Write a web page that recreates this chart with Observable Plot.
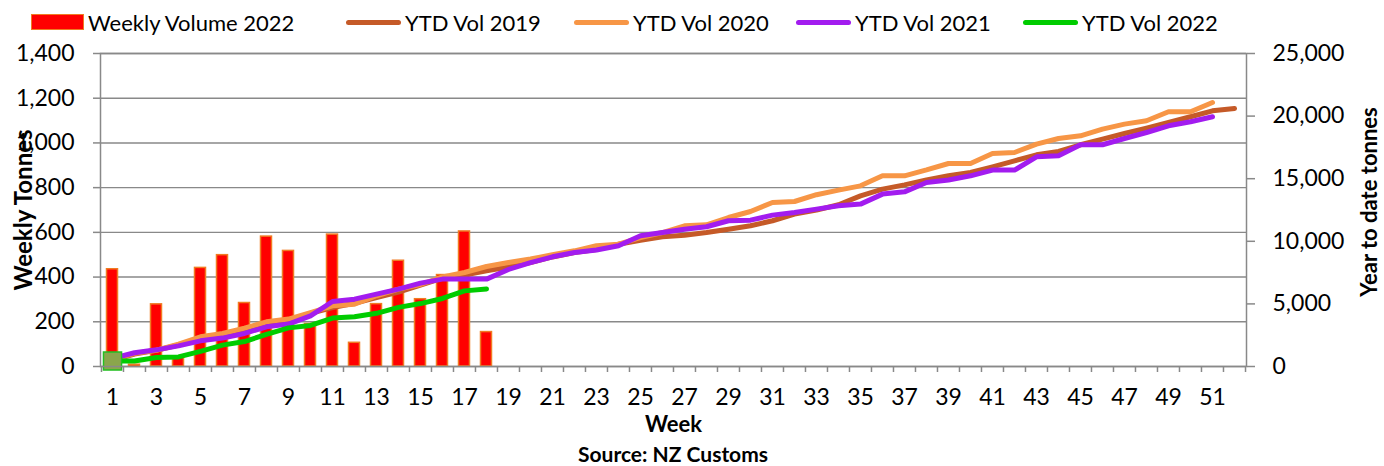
<!DOCTYPE html>
<html>
<head>
<meta charset="utf-8">
<script src="https://cdn.jsdelivr.net/npm/d3@7"></script>
<script src="https://cdn.jsdelivr.net/npm/@observablehq/plot@0.6"></script>
<style>
  html, body { margin: 0; padding: 0; background: #fff; }
  #wrap { position: relative; width: 1384px; height: 466px; overflow: hidden; font-family: Lato, sans-serif; }
  #legend { position: absolute; top: 0; left: 0; width: 1384px; height: 44px; font-size: 22px; color: #000; }
  .item { position: absolute; top: 0; height: 44px; display: flex; align-items: center; white-space: nowrap; }
  .sw { display: inline-block; width: 55px; margin-right: 4px; }
  .sw.bar { width: 53px; height: 16px; background: #ff0000; border: 1.5px solid #f07b22; box-sizing: border-box; }
  .sw.line { height: 5px; border-radius: 3px; }
  #chart { position: absolute; top: 38px; left: 0; }
  #caption { position: absolute; top: 443px; left: 0; width: 1346px; text-align: center; font: bold 21px Lato, sans-serif; line-height: 21px; }
</style>
</head>
<body>
<div id="wrap">
  <div id="legend"></div>
  <div id="chart"></div>
  <div id="caption">Source: NZ Customs</div>
</div>
<script>
// ---- data ----
const weeks = [1,2,3,4,5,6,7,8,9,10,11,12,13,14,15,16,17,18,19,20,21,22,23,24,25,26,
               27,28,29,30,31,32,33,34,35,36,37,38,39,40,41,42,43,44,45,46,47,48,49,50,51,52];
const weekLabels = [1,3,5,7,9,11,13,15,17,19,21,23,25,27,29,31,33,35,37,39,41,43,45,47,49,51];

const weeklyVolume2022 = [435, 8, 278, 45, 441, 498, 284, 581, 517, 190, 590, 106, 279, 473, 301, 409, 604, 154];

const ytd2019 = [500, 1000, 1300, 1720, 2150, 2450, 2900, 3350, 3700, 4250, 4700, 5050, 5500, 5950, 6500, 7050,
                 7300, 7650, 7950, 8300, 8750, 9100, 9350, 9770, 10090, 10360, 10490, 10700, 10970, 11240, 11640,
                 12170, 12490, 12920, 13630, 14170, 14510, 14900, 15230, 15500, 15950, 16430, 16910, 17175, 17710,
                 18160, 18610, 19040, 19490, 19945, 20420, 20610];
const ytd2020 = [550, 1050, 1300, 1790, 2370, 2640, 3060, 3570, 3790, 4310, 4850, 4980, 5650, 6180, 6550, 7160,
                 7510, 7990, 8310, 8580, 8920, 9240, 9640, 9770, 10300, 10700, 11240, 11320, 11900, 12380, 13100,
                 13180, 13720, 14090, 14430, 15230, 15230, 15700, 16215, 16215, 17015, 17095, 17760, 18210, 18425,
                 18960, 19360, 19625, 20345, 20345, 21085];
const ytd2021 = [650, 1100, 1330, 1650, 2050, 2270, 2640, 3170, 3390, 4050, 5190, 5380, 5780, 6180, 6660, 6980,
                 6980, 6980, 7750, 8300, 8760, 9100, 9300, 9640, 10440, 10700, 10970, 11160, 11640, 11690, 12090,
                 12300, 12570, 12835, 12970, 13770, 13950, 14700, 14900, 15230, 15685, 15685, 16750, 16830, 17710,
                 17710, 18210, 18690, 19225, 19545, 19945];
const ytd2022 = [435, 445, 720, 765, 1205, 1705, 1990, 2570, 3085, 3280, 3870, 3975, 4250, 4725, 5025, 5435, 6040, 6195];

const leftTicks = [0, 200, 400, 600, 800, 1000, 1200, 1400];
const rightTicks = [0, 5000, 10000, 15000, 20000, 25000];

const seriesNames = ["YTD Vol 2019", "YTD Vol 2020", "YTD Vol 2021", "YTD Vol 2022"];
const seriesColors = ["#c55a28", "#f79646", "#a21cef", "#00cc00"];
const barName = "Weekly Volume 2022";

// ---- build tables ----
const k = 1400 / 25000; // right axis -> left axis
const bars = weeklyVolume2022.map((v, i) => ({week: weeks[i], value: v}));
const ytdSeries = [ytd2019, ytd2020, ytd2021, ytd2022];
const lines = ytdSeries.map((arr, s) => arr.map((v, i) => ({week: weeks[i], ytd: v, series: seriesNames[s]})));

const gray = "#898989";
const fmt = d3.format(",");
const halfBand = (1384 - 100 - 138) / weeks.length / 2;

const chart = Plot.plot({
  width: 1384,
  height: 398,
  marginTop: 15,
  marginBottom: 70,
  marginLeft: 100,
  marginRight: 138,
  style: {fontFamily: "Lato, sans-serif", fontSize: "23px", color: "#000", background: "#fff"},
  x: {type: "band", domain: weeks, padding: 0},
  y: {domain: [0, 1400]},
  marks: [
    Plot.gridY(leftTicks, {stroke: gray, strokeOpacity: 1, strokeWidth: 1.4}),
    Plot.barY(bars, {x: "week", y: "value", fill: "#ff0000", stroke: "#f07b22", strokeWidth: 1.5, insetLeft: 5.5, insetRight: 5.5}),
    ...lines.map((data, s) => Plot.line(data, {
      x: "week", y: d => d.ytd * k, stroke: seriesColors[s], strokeWidth: 5,
      strokeLinejoin: "round", strokeLinecap: "round"
    })),
    Plot.dot(lines[3].slice(0, 1), {x: "week", y: d => d.ytd * k, symbol: "square", r: 10.2,
      fill: "#8aa64c", stroke: "#22c022", strokeWidth: 1.5}),
    Plot.frame({stroke: gray, strokeWidth: 1.5}),
    Plot.axisY(leftTicks, {anchor: "left", tickSize: 7, tickPadding: 19, stroke: gray, strokeWidth: 1.5,
      tickFormat: fmt, label: null}),
    Plot.axisY(rightTicks.map(v => v * k), {anchor: "right", tickSize: 8, tickPadding: 18, stroke: gray, strokeWidth: 1.5,
      tickFormat: d => fmt(Math.round(d / k)), label: null}),
    Plot.axisX(weeks, {tickSize: 6, stroke: gray, strokeWidth: 1.5, tickFormat: () => "", dx: -halfBand, label: null}),
    Plot.axisX([52], {tickSize: 6, stroke: gray, strokeWidth: 1.5, tickFormat: () => "", dx: halfBand, label: null}),
    Plot.axisX(weekLabels, {tickSize: 0, tickPadding: 22, label: null}),
    Plot.text(["Weekly Tonnes"], {frameAnchor: "left", dx: -76, rotate: -90, textAnchor: "middle", lineAnchor: "middle",
      fontWeight: "bold", fontSize: 24, text: d => d}),
    Plot.text(["Year to date tonnes"], {frameAnchor: "right", dx: 123, dy: -8, rotate: -90, textAnchor: "middle", lineAnchor: "middle",
      fontWeight: "bold", fontSize: 22, text: d => d}),
    Plot.text(["Week"], {frameAnchor: "bottom", dy: 58, textAnchor: "middle", lineAnchor: "middle",
      fontWeight: "bold", fontSize: 22, text: d => d})
  ]
});
document.getElementById("chart").appendChild(chart);

// ---- legend ----
const legend = document.getElementById("legend");
const legendLeft = [31, 346, 574, 796, 1023];
const addItem = (label, cls, color, left) => {
  const it = document.createElement("span");
  it.className = "item";
  it.style.left = left + "px";
  const sw = document.createElement("span");
  sw.className = "sw " + cls;
  if (color) sw.style.background = color;
  it.appendChild(sw);
  it.appendChild(document.createTextNode(label));
  legend.appendChild(it);
};
addItem(barName, "bar", null, legendLeft[0]);
seriesNames.forEach((n, i) => addItem(n, "line", seriesColors[i], legendLeft[i + 1]));
</script>
</body>
</html>
